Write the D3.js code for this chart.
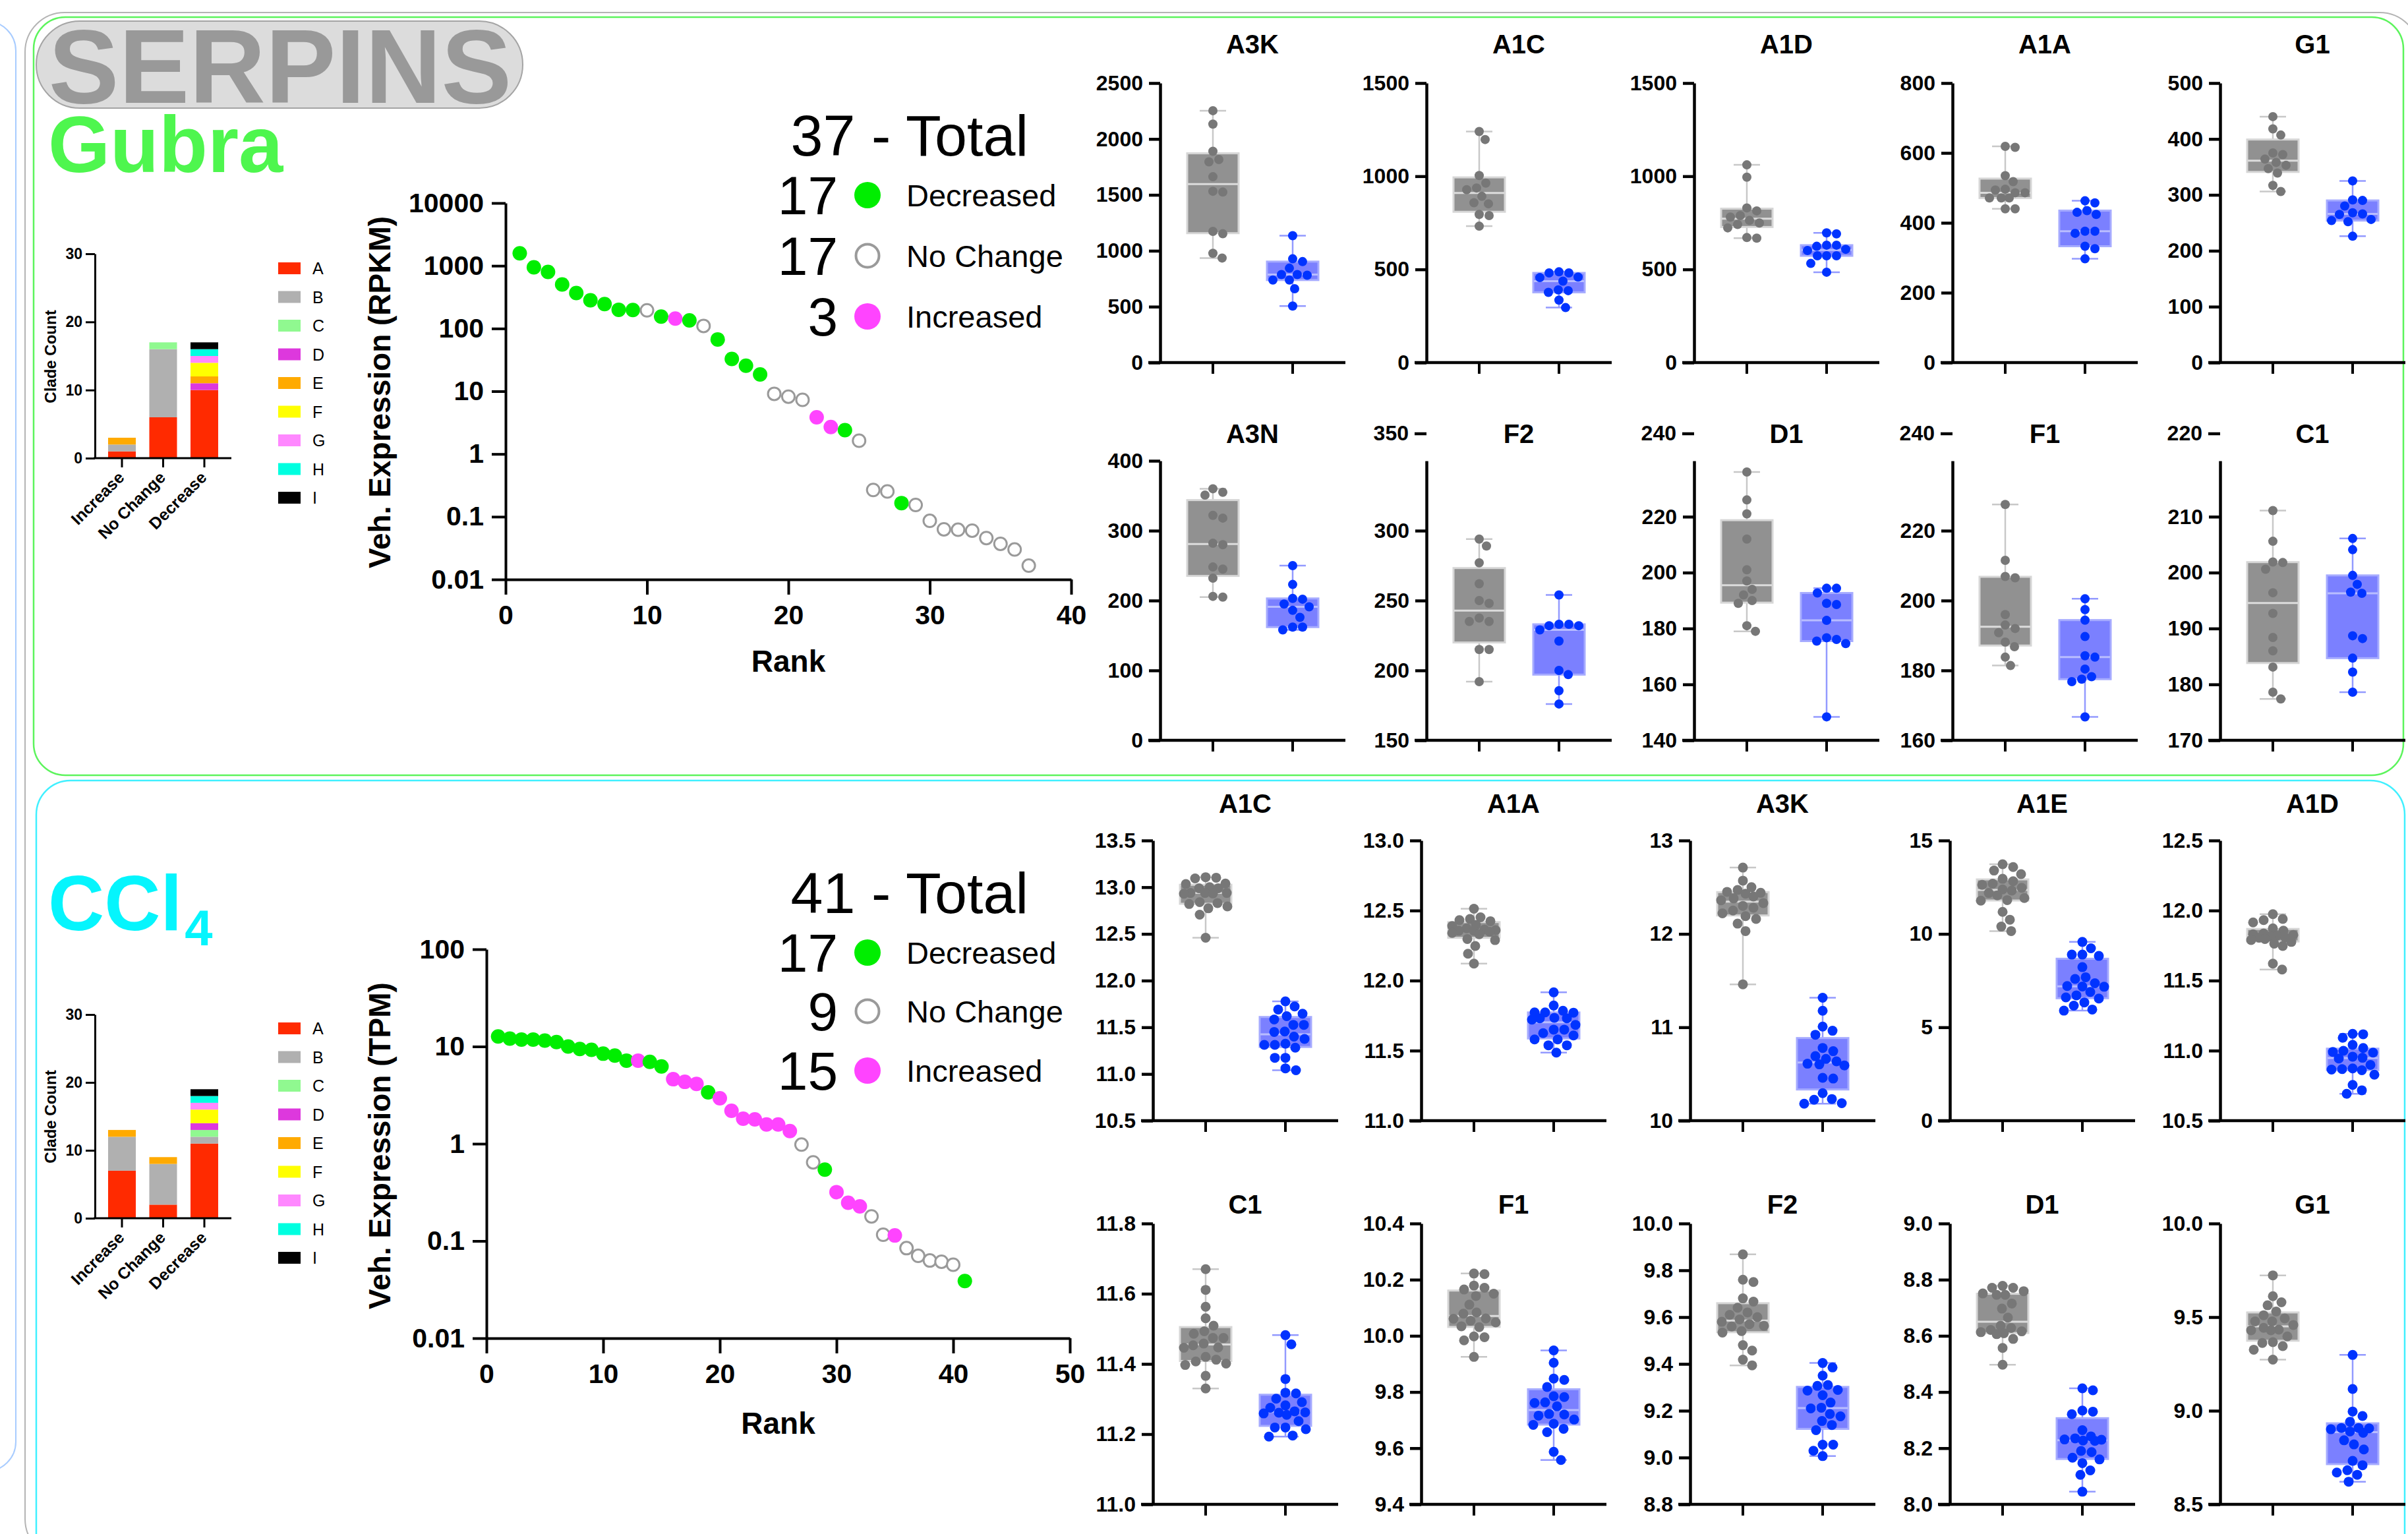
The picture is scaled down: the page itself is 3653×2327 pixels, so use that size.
<!DOCTYPE html>
<html><head><meta charset="utf-8">
<script src="https://cdn.jsdelivr.net/npm/d3@7"></script>
<style>
html,body{margin:0;padding:0;background:#fff;}
svg{display:block;font-family:"Liberation Sans",Arial,Helvetica,sans-serif;}
</style></head><body>
<svg id="c" width="3653" height="2327"></svg>
<script>
// ---------------- DATA ----------------
const cladeKeys = ["A","B","C","D","E","F","G","H","I"];
const cladeColors = ["#ff2a00","#b0b0b0","#90f990","#dd38dd","#ffaa00","#ffff00","#ff88ff","#00ffe0","#000000"];
const cladeGroups = ["Increase","No Change","Decrease"];
const gubraCladeCounts = [
  [1,1,0,0,1,0,0,0,0],
  [6,10,1,0,0,0,0,0,0],
  [10,0,0,1,1,2,1,1,1]];
const ccl4CladeCounts = [
  [7,5,0,0,1,0,0,0,0],
  [2,6,0,0,1,0,0,0,0],
  [11,1,1,1,0,2,1,1,1]];
const countTicks = [0,10,20,30];

const statusLabels = ["Decreased","No Change","Increased"];
const statusCodes = ["D","N","I"];

const gubraRankValues = [1578,944,798,505,367,282,245,199,197,195,155,144,135,110,67,32.7,25.5,18.5,9.1,8.2,7.3,3.85,2.69,2.4,1.63,0.267,0.253,0.165,0.154,0.086,0.063,0.062,0.060,0.0457,0.037,0.030,0.0166];
const gubraRankStatus = "DDDDDDDDDNDIDNDDDDNNNIIDNNNDNNNNNNNNN".split("");
const gubraRankXTicks = [0,10,20,30,40];
const gubraRankYTicks = [0.01,0.1,1,10,100,1000,10000];

const ccl4RankValues = [12.7,12.07,11.8,11.8,11.5,11.1,10.0,9.42,9.25,8.44,8.07,7.16,7.16,6.96,6.24,4.61,4.33,4.13,3.38,2.94,2.18,1.81,1.78,1.58,1.58,1.35,0.98,0.644,0.542,0.318,0.247,0.227,0.179,0.116,0.114,0.0844,0.0703,0.063,0.0612,0.057,0.0387];
const ccl4RankStatus = "DDDDDDDDDDDDIDDIIIDIIIIIIINNDIIINNINNNNND".split("");
const ccl4RankXTicks = [0,10,20,30,40,50];
const ccl4RankYTicks = [0.01,0.1,1,10,100];

const gubraBoxNames = ["A3K","A1C","A1D","A1A","G1","A3N","F2","D1","F1","C1"];
const gubraVeh = [
  [2253,2133,1890,1816,1795,1662,1532,1525,1173,1152,977,935],
  [1240,1197,1004,963,937,928,892,858,852,795,789,732],
  [1061,995,830,814,789,781,763,749,741,723,671,668],
  [619,616,535,518,496,494,486,486,471,471,471,440,440],
  [440,418,407,375,372,364,358,353,347,339,317,306],
  [360,355,351,322,318,282,280,248,245,232,206,205],
  [294,289,277,262,250,248,237.5,235,235,215,215,192],
  [236,226,221,212,201,197,194,192,190,189,181,179],
  [227.5,211.5,206.9,206.5,196,193,192,190.8,188.1,186.8,183.8,181.4],
  [211.1,205.6,201.9,201.8,200.6,196.4,192.7,188.4,186,183.1,178.6,177.4]];
const gubraTrt = [
  [1135,928,903,844,787,787,781,738,738,660,506],
  [487,481,481,459,456,437,390,386,377,335,295],
  [696,691,630,630,624,608,601,573,573,573,532,485],
  [463,457,435,430,424,376,376,370,333,326,297],
  [325,291,290,280,268,266,265,256,254,252,226],
  [250,223,203,202,195,191,186,176,162,162,158],
  [254,233,233,232,232,229,221,200,197,185.5,176],
  [194.4,194.4,192.7,189,188.6,182.9,176.7,176.1,175.5,174.6,148.4],
  [200.5,197.4,194.4,189.7,184.2,183.8,180.4,178.2,177.5,176.8,166.7],
  [206.1,204.1,199.5,197.9,196.5,196.3,188.7,188.2,184.7,182.2,178.6]];
const gubraBoxTicks = [
  [0,500,1000,1500,2000,2500],[0,500,1000,1500],[0,500,1000,1500],[0,200,400,600,800],[0,100,200,300,400,500],
  [0,100,200,300,400],[150,200,250,300,350],[140,160,180,200,220,240],[160,180,200,220,240],[170,180,190,200,210,220]];
const gubraTickDecimals = [0,0,0,0,0,0,0,0,0,0];
const gubraTopTickDetached = [false,false,false,false,false,false,true,true,true,true];

const ccl4BoxNames = ["A1C","A1A","A3K","A1E","A1D","C1","F1","F2","D1","G1"];
const ccl4Veh = [
  [13.107,13.102,13.094,13.039,13.034,13.001,12.988,12.988,12.938,12.938,12.938,12.933,12.930,12.84,12.83,12.82,12.794,12.774,12.706,12.459],
  [12.513,12.452,12.440,12.432,12.424,12.398,12.390,12.373,12.365,12.360,12.356,12.356,12.348,12.340,12.331,12.297,12.289,12.247,12.192,12.121],
  [12.71,12.57,12.50,12.47,12.45,12.44,12.43,12.40,12.38,12.36,12.33,12.30,12.28,12.25,12.22,12.19,12.16,12.11,12.03,11.46],
  [13.73,13.58,13.39,13.20,12.95,12.82,12.69,12.63,12.47,12.38,12.32,12.19,12.06,11.92,11.81,11.78,11.18,10.76,10.39,10.15],
  [11.974,11.94,11.932,11.915,11.873,11.856,11.836,11.831,11.826,11.82,11.815,11.806,11.806,11.797,11.79,11.776,11.764,11.747,11.621,11.579],
  [11.670,11.611,11.563,11.530,11.509,11.493,11.486,11.474,11.474,11.458,11.453,11.447,11.446,11.420,11.412,11.407,11.401,11.397,11.366,11.330],
  [10.222,10.220,10.179,10.171,10.165,10.150,10.142,10.111,10.083,10.079,10.062,10.061,10.054,10.048,10.034,10.031,9.998,9.995,9.984,9.925],
  [9.868,9.76,9.75,9.68,9.666,9.64,9.62,9.61,9.60,9.59,9.58,9.57,9.563,9.56,9.54,9.534,9.48,9.457,9.418,9.394],
  [8.778,8.771,8.771,8.759,8.751,8.746,8.746,8.715,8.697,8.665,8.636,8.628,8.621,8.616,8.613,8.609,8.606,8.589,8.557,8.497],
  [9.723,9.612,9.579,9.563,9.530,9.510,9.493,9.477,9.477,9.458,9.443,9.433,9.430,9.430,9.397,9.366,9.362,9.345,9.326,9.273]];
const ccl4Trt = [
  [11.778,11.723,11.690,11.645,11.619,11.584,11.526,11.526,11.455,11.450,11.400,11.375,11.324,11.312,11.312,11.282,11.173,11.173,11.060,11.040],
  [11.916,11.822,11.785,11.773,11.773,11.771,11.734,11.731,11.731,11.721,11.684,11.650,11.650,11.625,11.608,11.580,11.580,11.538,11.538,11.486],
  [11.316,11.177,11.008,10.963,10.920,10.779,10.744,10.691,10.661,10.635,10.610,10.603,10.592,10.459,10.451,10.295,10.232,10.224,10.187,10.182],
  [9.57,9.23,8.89,8.89,8.82,8.22,7.68,7.59,7.36,7.21,7.18,7.17,6.89,6.71,6.60,6.54,6.33,6.16,5.95,5.89],
  [11.12,11.117,11.092,11.041,11.019,10.999,10.991,10.986,10.957,10.949,10.944,10.898,10.873,10.868,10.865,10.86,10.828,10.755,10.717,10.692],
  [11.482,11.456,11.357,11.318,11.316,11.301,11.291,11.282,11.275,11.265,11.262,11.261,11.259,11.255,11.237,11.219,11.219,11.214,11.196,11.193],
  [9.948,9.904,9.848,9.843,9.818,9.785,9.782,9.763,9.761,9.749,9.722,9.720,9.716,9.702,9.687,9.683,9.669,9.657,9.587,9.558],
  [9.404,9.385,9.35,9.31,9.306,9.289,9.286,9.266,9.235,9.213,9.21,9.186,9.176,9.156,9.139,9.117,9.055,9.055,9.029,9.006],
  [8.413,8.406,8.334,8.330,8.321,8.264,8.242,8.235,8.231,8.230,8.227,8.226,8.19,8.186,8.166,8.16,8.147,8.121,8.105,8.045],
  [9.298,9.116,8.996,8.972,8.941,8.908,8.908,8.906,8.901,8.889,8.882,8.842,8.820,8.793,8.732,8.709,8.682,8.670,8.658,8.621]];
const ccl4BoxTicks = [
  [10.5,11,11.5,12,12.5,13,13.5],[11,11.5,12,12.5,13],[10,11,12,13],[0,5,10,15],[10.5,11,11.5,12,12.5],
  [11,11.2,11.4,11.6,11.8],[9.4,9.6,9.8,10,10.2,10.4],[8.8,9,9.2,9.4,9.6,9.8,10],[8,8.2,8.4,8.6,8.8,9],[8.5,9,9.5,10]];
const ccl4TickDecimals = [1,1,0,0,1,1,1,1,1,1];
const ccl4TopTickDetached = [false,false,false,false,false,false,false,false,false,false];

// ---------------- DRAWING ----------------
const svg = d3.select("#c");
const GREEN = "#00ee00", MAGENTA = "#ff44ff", OPEN = "#9a9a9a";

// frames
svg.append("rect").attr("x",-1000).attr("y",32).attr("width",1024).attr("height",2200).attr("rx",45)
  .attr("fill","none").attr("stroke","#a8ccff").attr("stroke-width",2);
svg.append("rect").attr("x",38).attr("y",19).attr("width",3632).attr("height",2345).attr("rx",60)
  .attr("fill","none").attr("stroke","#b4b4b4").attr("stroke-width",2);
svg.append("rect").attr("x",51).attr("y",26).attr("width",3595).attr("height",1150).attr("rx",48)
  .attr("fill","none").attr("stroke","#5cf45c").attr("stroke-width",2.5);
svg.append("rect").attr("x",55).attr("y",1184).attr("width",3593).attr("height",1300).attr("rx",52)
  .attr("fill","none").attr("stroke","#40f0ff").attr("stroke-width",2.5);

// titles
svg.append("rect").attr("x",55).attr("y",32).attr("width",738).attr("height",132).attr("rx",66)
  .attr("fill","#dcdcdc").attr("stroke","#a4a4a4").attr("stroke-width",2);
svg.append("text").attr("x",425).attr("y",156).attr("text-anchor","middle")
  .attr("font-size",160).attr("font-weight",700).attr("fill","#999999").text("SERPINS");
svg.append("text").attr("x",73).attr("y",261).attr("font-size",121).attr("font-weight",700)
  .attr("fill","#4ef64e").text("Gubra");
const cclT = svg.append("text").attr("x",73).attr("y",1411).attr("font-size",118).attr("font-weight",700)
  .attr("fill","#05f5fd");
cclT.append("tspan").text("CCl");
cclT.append("tspan").attr("font-size",76).attr("dy",23).attr("dx",4).text("4");

function styleAxis(a, w, fs){
  a.select(".domain").attr("stroke","#000").attr("stroke-width",w);
  a.selectAll(".tick line").attr("stroke","#000").attr("stroke-width",w);
  a.selectAll(".tick text").attr("font-size",fs).attr("font-weight",700).attr("fill","#000")
    .attr("font-family",'"Liberation Sans",Arial,sans-serif');
}

// ---- clade bar charts ----
function drawClade(counts, y0, y30, legendTop, labelCY){
  const g = svg.append("g");
  const y = d3.scaleLinear().domain([0,30]).range([y0,y30]);
  const x = d3.scalePoint().domain(cladeGroups).range([185,310]);
  const rows = cladeGroups.map((grp,i)=>{const o={group:grp}; cladeKeys.forEach((k,j)=>o[k]=counts[i][j]); return o;});
  const stack = d3.stack().keys(cladeKeys)(rows);
  g.selectAll("g.layer").data(stack).join("g").attr("class","layer").attr("fill",(d,i)=>cladeColors[i])
    .selectAll("rect").data(d=>d.filter(s=>s[1]>s[0])).join("rect")
    .attr("x",d=>x(d.data.group)-21).attr("width",42)
    .attr("y",d=>y(d[1])).attr("height",d=>y(d[0])-y(d[1]));
  const ya = g.append("g").attr("transform","translate(144,0)")
    .call(d3.axisLeft(y).tickValues(countTicks).tickSize(14).tickSizeOuter(0).tickPadding(5));
  styleAxis(ya,3,23);
  g.append("line").attr("x1",142).attr("x2",351).attr("y1",y0).attr("y2",y0).attr("stroke","#000").attr("stroke-width",3);
  cladeGroups.forEach(grp=>{
    g.append("line").attr("x1",x(grp)).attr("x2",x(grp)).attr("y1",y0).attr("y2",y0+14).attr("stroke","#000").attr("stroke-width",3);
    g.append("text").attr("transform",`translate(${x(grp)+5},${y0+31}) rotate(-45)`).attr("text-anchor","end")
      .attr("font-size",25).attr("font-weight",700).text(grp);
  });
  g.append("text").attr("transform",`translate(85,${labelCY}) rotate(-90)`).attr("text-anchor","middle")
    .attr("font-size",24).attr("font-weight",700).text("Clade Count");
  cladeKeys.forEach((k,i)=>{
    const cy = legendTop + i*43.5;
    g.append("rect").attr("x",422).attr("y",cy-9).attr("width",34).attr("height",18).attr("fill",cladeColors[i]);
    g.append("text").attr("x",474).attr("y",cy+9).attr("font-size",25).text(k);
  });
}
drawClade(gubraCladeCounts, 695, 385, 407, 541);
drawClade(ccl4CladeCounts, 1848, 1539, 1560, 1694);

// ---- rank plots ----
function drawRank(values, status, xTicks, yTicks, cfg){
  const g = svg.append("g");
  const x = d3.scaleLinear().domain([0, xTicks[xTicks.length-1]]).range(cfg.xr);
  const y = d3.scaleLog().domain([yTicks[0], yTicks[yTicks.length-1]]).range(cfg.yr);
  const xa = g.append("g").attr("transform",`translate(0,${cfg.yr[0]})`)
    .call(d3.axisBottom(x).tickValues(xTicks).tickFormat(d3.format("d")).tickSize(23).tickSizeOuter(0).tickPadding(16));
  styleAxis(xa,4,41);
  const ya = g.append("g").attr("transform",`translate(${cfg.xr[0]},0)`)
    .call(d3.axisLeft(y).tickValues(yTicks).tickFormat(d=>String(d)).tickSize(21).tickSizeOuter(0).tickPadding(12));
  styleAxis(ya,4,41);
  g.append("text").attr("transform",`translate(592,${cfg.ylabY}) rotate(-90)`).attr("text-anchor","middle")
    .attr("font-size",46).attr("font-weight",700).text(cfg.ylab);
  g.append("text").attr("x",(cfg.xr[0]+cfg.xr[1])/2).attr("y",cfg.rankY).attr("text-anchor","middle")
    .attr("font-size",46).attr("font-weight",700).text("Rank");
  const pts = values.map((v,i)=>({rank:i+1, v, s:status[i]}));
  g.selectAll("circle.pt").data(pts).join("circle").attr("class","pt")
    .attr("cx",d=>x(d.rank)).attr("cy",d=>y(d.v))
    .attr("r",d=>d.s==="N"?9.5:11)
    .attr("fill",d=>d.s==="D"?GREEN:d.s==="I"?MAGENTA:"#fff")
    .attr("stroke",d=>d.s==="N"?OPEN:"none").attr("stroke-width",3);
  // legend
  g.append("text").attr("x",1560).attr("y",cfg.totalY).attr("text-anchor","end").attr("font-size",88)
    .text(values.length + " - Total");
  statusCodes.forEach((c,i)=>{
    const by = cfg.rowY[i];
    const n = status.filter(s=>s===c).length;
    g.append("text").attr("x",1271).attr("y",by).attr("text-anchor","end").attr("font-size",82).text(n);
    g.append("circle").attr("cx",1316).attr("cy",by-29).attr("r",c==="N"?17.5:20)
      .attr("fill",c==="D"?GREEN:c==="I"?MAGENTA:"#fff")
      .attr("stroke",c==="N"?OPEN:"none").attr("stroke-width",4);
    g.append("text").attr("x",1375).attr("y",by-12).attr("font-size",47).text(statusLabels[i]);
  });
}
drawRank(gubraRankValues, gubraRankStatus, gubraRankXTicks, gubraRankYTicks,
  {xr:[767,1625], yr:[879,308], ylab:"Veh. Expression (RPKM)", ylabY:595, rankY:1019, totalY:236, rowY:[325,417,509]});
drawRank(ccl4RankValues, ccl4RankStatus, ccl4RankXTicks, ccl4RankYTicks,
  {xr:[738,1623], yr:[2030,1440], ylab:"Veh. Expression (TPM)", ylabY:1738, rankY:2175, totalY:1385, rowY:[1474,1563,1653]});

// ---- box plots ----
function quant(s, p){
  const n = s.length, pos = (n+1)*p;
  if (pos <= 1) return s[0];
  if (pos >= n) return s[n-1];
  const lo = Math.floor(pos), f = pos-lo;
  return s[lo-1] + f*(s[lo]-s[lo-1]);
}
// beeswarm limited to the box width; overlapping allowed when crowded
function swarm(ys, r, cap){
  const placed = [], xs = new Array(ys.length);
  const order = d3.range(ys.length).sort((a,b)=>ys[a]-ys[b]);
  const md = 2*r+1;
  for (const i of order){
    let best = null, bestScore = -1;
    for (let k=0;k<=2*cap;k++){
      const c = (k%2===1?1:-1)*Math.ceil(k/2);
      let mind = Infinity;
      for (const p of placed){
        const d = Math.hypot(p[0]-c, p[1]-ys[i]);
        if (d < mind) mind = d;
      }
      if (mind >= md){ best = c; bestScore = Infinity; break; }
      if (mind > bestScore + 0.5){ bestScore = mind; best = c; }
    }
    placed.push([best, ys[i]]); xs[i]=best;
  }
  return xs;
}
const grpStyles = [
  {fill:"#919191", edge:"#d6d6d6", med:"#dcdcdc", whisk:"#c8c8c8", dot:"#777777"},
  {fill:"#7b80ff", edge:"#a6abff", med:"#b9bdff", whisk:"#939aff", dot:"#0033ff"}];

function drawBoxPanel(name, veh, trt, ticks, dec, detached, ax, row, r){
  const g = svg.append("g");
  const dom = [ticks[0], ticks[ticks.length-1]];
  const y = d3.scaleLinear().domain(dom).range([row.bottom,row.top]);
  const fmt = d3.format("."+dec+"f");
  const axisTicks = detached ? ticks.slice(0,-1) : ticks;
  const ya = g.append("g").attr("transform",`translate(${ax},0)`)
    .call(d3.axisLeft(y).tickValues(axisTicks).tickFormat(fmt).tickSize(17).tickSizeOuter(0).tickPadding(9));
  styleAxis(ya,4.5,32);
  if (detached){
    g.append("line").attr("x1",ax-18).attr("x2",ax).attr("y1",row.breakY).attr("y2",row.breakY).attr("stroke","#000").attr("stroke-width",4.5);
    g.append("text").attr("x",ax-27).attr("y",row.breakY).attr("dy","0.32em").attr("text-anchor","end")
      .attr("font-size",32).attr("font-weight",700).text(fmt(ticks[ticks.length-1]));
  }
  const x = d3.scalePoint().domain(["veh","trt"]).range([ax+80, ax+201]);
  g.append("line").attr("x1",ax-18).attr("x2",ax+281).attr("y1",row.bottom).attr("y2",row.bottom).attr("stroke","#000").attr("stroke-width",4.5);
  x.domain().forEach(k=>{
    g.append("line").attr("x1",x(k)).attr("x2",x(k)).attr("y1",row.bottom).attr("y2",row.bottom+17).attr("stroke","#000").attr("stroke-width",4);
  });
  g.append("text").attr("x",ax+140).attr("y",row.titleY).attr("text-anchor","middle")
    .attr("font-size",40).attr("font-weight",700).text(name);
  [veh,trt].forEach((vals,gi)=>{
    const st = grpStyles[gi], cx = x(x.domain()[gi]);
    const s = vals.slice().sort((a,b)=>a-b);
    const q1 = quant(s,0.25), q2 = quant(s,0.5), q3 = quant(s,0.75);
    const mn = s[0], mx = s[s.length-1];
    g.append("line").attr("x1",cx).attr("x2",cx).attr("y1",y(mn)).attr("y2",y(mx)).attr("stroke",st.whisk).attr("stroke-width",2.5);
    [mn,mx].forEach(v=>g.append("line").attr("x1",cx-20).attr("x2",cx+20).attr("y1",y(v)).attr("y2",y(v)).attr("stroke",st.whisk).attr("stroke-width",2.5));
    g.append("rect").attr("x",cx-39).attr("width",78).attr("y",y(q3)).attr("height",y(q1)-y(q3))
      .attr("fill",st.fill).attr("stroke",st.edge).attr("stroke-width",3);
    g.append("line").attr("x1",cx-38).attr("x2",cx+38).attr("y1",y(q2)).attr("y2",y(q2)).attr("stroke",st.med).attr("stroke-width",3);
    const ys = vals.map(v=>y(v));
    const xs = swarm(ys, r, 33);
    g.selectAll(null).data(vals).join("circle")
      .attr("cx",(d,i)=>cx+xs[i]).attr("cy",(d,i)=>ys[i]).attr("r",r).attr("fill",st.dot);
  });
}

const gubraAxisX = [1760,2164,2570,2962,3368];
const gubraRows = [{titleY:81, top:126, bottom:550}, {titleY:672, top:699, bottom:1123, breakY:658}];
gubraBoxNames.forEach((nm,i)=>drawBoxPanel(nm, gubraVeh[i], gubraTrt[i], gubraBoxTicks[i], gubraTickDecimals[i],
  gubraTopTickDetached[i], gubraAxisX[i%5], gubraRows[Math.floor(i/5)], 7));

const ccl4AxisX = [1749,2156,2564,2958,3368];
const ccl4Rows = [{titleY:1233, top:1275, bottom:1700}, {titleY:1841, top:1856, bottom:2282}];
ccl4BoxNames.forEach((nm,i)=>drawBoxPanel(nm, ccl4Veh[i], ccl4Trt[i], ccl4BoxTicks[i], ccl4TickDecimals[i],
  ccl4TopTickDetached[i], ccl4AxisX[i%5], ccl4Rows[Math.floor(i/5)], 7.5));
</script>
</body></html>
